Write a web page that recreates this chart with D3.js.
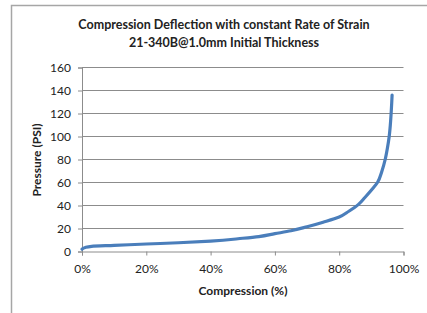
<!DOCTYPE html>
<html><head><meta charset="utf-8">
<script src="https://cdn.jsdelivr.net/npm/d3@7"></script>
<style>body{margin:0;background:#fff}svg{display:block}text{font-family:Lato,"Open Sans",sans-serif;fill:#222}</style>
</head><body><svg id="c" width="427" height="313"></svg>
<script>
const titleLines = ["Compression Deflection with constant Rate of Strain", "21-340B@1.0mm Initial Thickness"];
const xLabel = "Compression (%)";
const yLabel = "Pressure (PSI)";
const compression = [0, 1, 3, 10, 20, 30, 40, 50, 55, 60, 65, 70, 75, 80, 83, 86, 88, 90.5, 91.9, 93.3, 94.3, 95.0, 95.55, 95.9, 96.15, 96.35, 96.45];
const pressure   = [2, 3.5, 4.5, 5.3, 6.5, 7.6, 9, 11.5, 13, 15.5, 18, 21.5, 25.5, 30, 35, 41, 47, 55, 60, 70, 80, 90, 100, 110, 120, 130, 136];
const yTicks = [0, 20, 40, 60, 80, 100, 120, 140, 160];
const xTicks = [0, 20, 40, 60, 80, 100];

const svg = d3.select("#c");
svg.append("path").attr("d","M11.5,313 V5.5 H427").attr("fill","none").attr("stroke","#a6a6a6").attr("stroke-width",1.5);

const x = d3.scaleLinear().domain([0,100]).range([82,403.5]);
const y = d3.scaleLinear().domain([0,160]).range([251.5,67.5]);

svg.append("g").selectAll("line").data(yTicks.filter(d=>d>0)).join("line")
  .attr("x1",x(0)).attr("x2",x(100)).attr("y1",d=>y(d)).attr("y2",d=>y(d))
  .attr("stroke","#8c8c8c").attr("stroke-width",1);

const ya = svg.append("g").attr("transform",`translate(${x(0)},0)`)
  .call(d3.axisLeft(y).tickValues(yTicks).tickSize(4).tickPadding(7).tickFormat(d3.format("d")));
ya.select(".domain").attr("stroke","#8c8c8c");
ya.selectAll(".tick line").attr("stroke","#8c8c8c");
ya.selectAll("text").style("font-size","12px").attr("fill","#333");

const xa = svg.append("g").attr("transform",`translate(0,${y(0)})`)
  .call(d3.axisBottom(x).tickValues(xTicks).tickSize(4).tickPadding(9).tickFormat(d=>d+"%"));
xa.select(".domain").attr("stroke","#8c8c8c");
xa.selectAll(".tick line").attr("stroke","#8c8c8c");
xa.selectAll("text").style("font-size","12px").attr("fill","#333");

const line = d3.line().x((d,i)=>x(compression[i])).y(d=>y(d)).curve(d3.curveMonotoneY);
svg.append("path").datum(pressure).attr("d",line).attr("fill","none")
  .attr("stroke","#4a7ebb").attr("stroke-width",3.2).attr("stroke-linecap","round");

svg.selectAll(".title").data(titleLines).join("text")
  .attr("x",224).attr("y",(d,i)=>29+i*18).attr("text-anchor","middle")
  .style("font-size","12.5px").style("font-weight","bold").text(d=>d);

svg.append("text").attr("x",243).attr("y",295).attr("text-anchor","middle")
  .style("font-size","12px").style("font-weight","bold").text(xLabel);
svg.append("text").attr("transform","translate(41,160) rotate(-90)").attr("text-anchor","middle")
  .style("font-size","12px").style("font-weight","bold").text(yLabel);
</script></body></html>
